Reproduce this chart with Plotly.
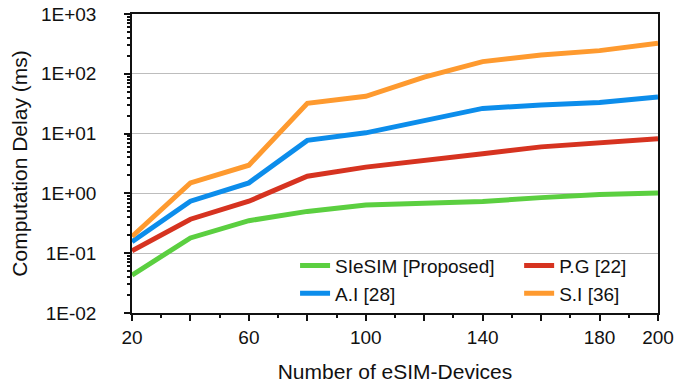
import plotly.graph_objects as go

x_devices = [20, 40, 60, 80, 100, 120, 140, 160, 180, 200]
sie_sim = [0.043, 0.18, 0.35, 0.50, 0.64, 0.68, 0.73, 0.85, 0.96, 1.02]
pg_22 = [0.11, 0.37, 0.74, 1.94, 2.75, 3.5, 4.6, 6.0, 7.0, 8.2]
ai_28 = [0.155, 0.74, 1.5, 7.7, 10.3, 16.5, 26.4, 30, 33, 41]
si_36 = [0.19, 1.5, 2.96, 32, 42, 88, 160, 207, 244, 325]

series_names = ["SIeSIM [Proposed]", "A.I [28]", "P.G [22]", "S.I [36]"]
series_values = [sie_sim, ai_28, pg_22, si_36]
series_colors = ["#5BCF40", "#0C8DEB", "#D63320", "#FE9A2F"]
series_legend = ["legend", "legend", "legend2", "legend2"]

y_tickvals = [0.01, 0.1, 1, 10, 100, 1000]
y_ticktext = ["1E-02", "1E-01", "1E+00", "1E+01", "1E+02", "1E+03"]
x_tickvals = [20, 40, 60, 80, 100, 120, 140, 160, 180, 200]
x_ticktext = ["20", "", "60", "", "100", "", "140", "", "180", "200"]

font_family = "Liberation Sans, Arial, sans-serif"

fig = go.Figure()
for name, vals, col, lg in zip(series_names, series_values, series_colors, series_legend):
    fig.add_trace(go.Scatter(x=x_devices, y=vals, mode="lines", name=name,
                             line=dict(color=col, width=5), legend=lg))

leg_common = dict(orientation="v", yanchor="top", xanchor="left",
                  font=dict(size=19, family=font_family, color="#111"),
                  bgcolor="rgba(0,0,0,0)", itemwidth=30)

fig.update_layout(
    width=690, height=387,
    margin=dict(l=132, r=32, t=14, b=74, autoexpand=False),
    paper_bgcolor="white", plot_bgcolor="white",
    font=dict(family=font_family, size=19, color="#111"),
    showlegend=True,
    legend=dict(x=0.310, y=0.222, **leg_common),
    legend2=dict(x=0.736, y=0.222, **leg_common),
)
fig.update_xaxes(
    range=[20, 200], tickvals=x_tickvals, ticktext=x_ticktext,
    ticks="outside", ticklen=6, tickcolor="#111", tickwidth=1.5,
    minor=dict(ticks="outside", dtick=10, ticklen=3, tickcolor="#111"),
    showline=True, linecolor="#111", linewidth=1.5, mirror=True,
    showgrid=False, zeroline=False, automargin=False,
    ticklabelstandoff=0,
    title=dict(text="Number of eSIM-Devices", font=dict(size=21), standoff=18),
    tickfont=dict(size=19),
)
fig.update_yaxes(
    type="log", range=[-2, 3], tickvals=y_tickvals, ticktext=y_ticktext,
    ticks="outside", ticklen=6, tickcolor="#111", tickwidth=1.5,
    minor=dict(ticks="outside", ticklen=3, tickcolor="#111", dtick="D1", showgrid=False),
    showline=True, linecolor="#111", linewidth=1.5, mirror=True,
    showgrid=True, gridcolor="#BDBDBD", gridwidth=1, automargin=False,
    ticklabelstandoff=24,
    title=dict(text="Computation Delay (ms)", font=dict(size=21), standoff=8),
    tickfont=dict(size=19),
)

fig.write_html("out.html",
               config={"displayModeBar": False},
               post_script="document.body.style.margin='0';document.body.style.padding='0';")
